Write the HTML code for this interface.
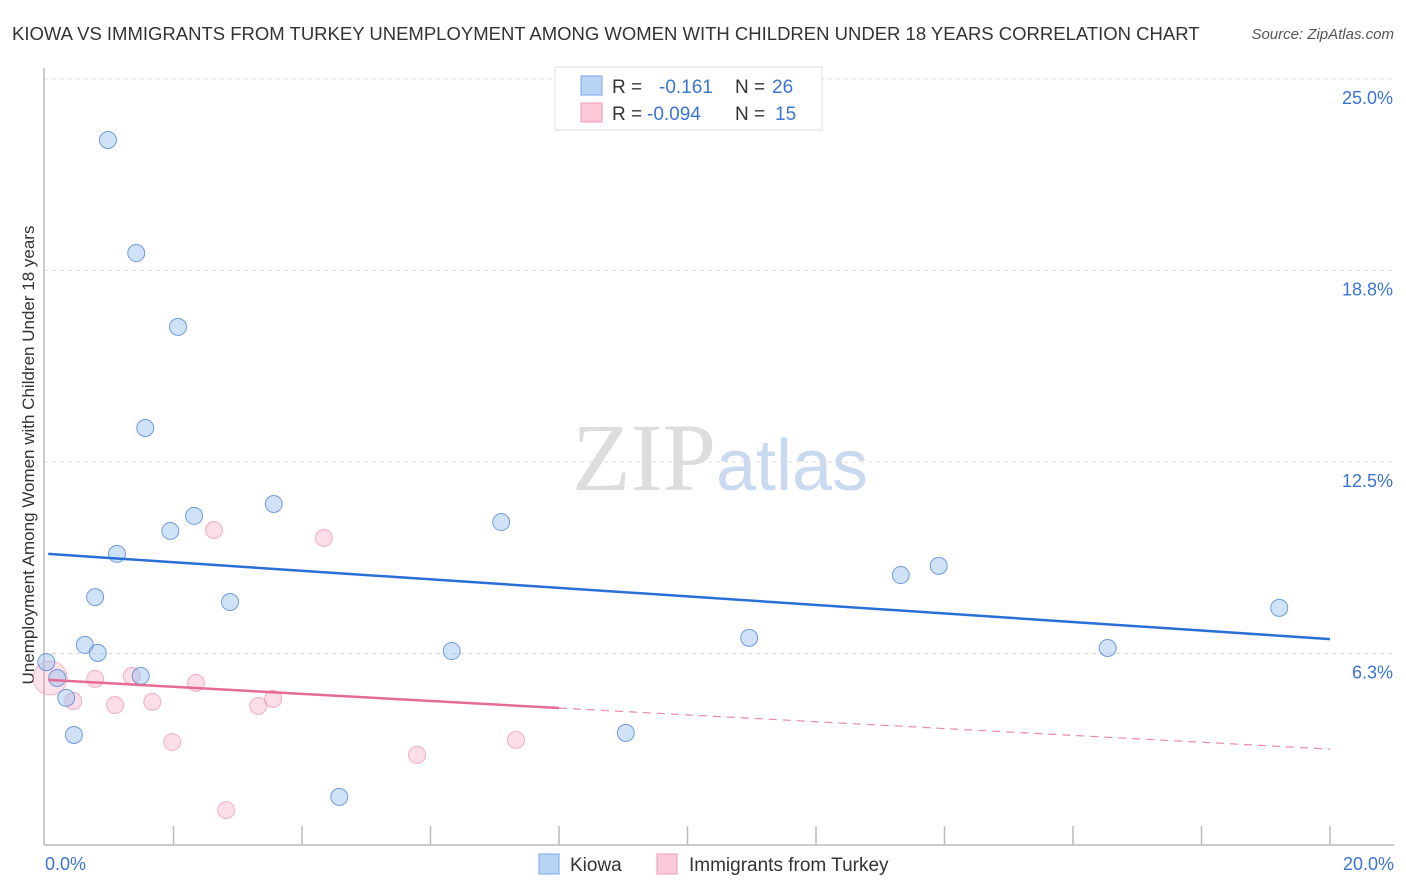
<!DOCTYPE html>
<html><head><meta charset="utf-8"><style>
body{margin:0;background:#fff;font-family:"Liberation Sans",sans-serif}
svg{display:block}
</style></head><body>
<svg id="chart" width="1406" height="892" viewBox="0 0 1406 892" xmlns="http://www.w3.org/2000/svg">
<text x="12" y="40" font-size="18.5" fill="#333">KIOWA VS IMMIGRANTS FROM TURKEY UNEMPLOYMENT AMONG WOMEN WITH CHILDREN UNDER 18 YEARS CORRELATION CHART</text>
<text x="1394" y="39" font-size="15" fill="#555" text-anchor="end" font-style="italic">Source: ZipAtlas.com</text>
<text x="720" y="490" font-size="96" text-anchor="middle"><tspan fill="#ddd" font-family="Liberation Serif">ZIP</tspan><tspan fill="#c9daf0" font-size="72">atlas</tspan></text>
<g id="grid"></g>
<line x1="44" y1="68" x2="44" y2="845" stroke="#bbb" stroke-width="1.5"/>
<line x1="44" y1="845" x2="1394" y2="845" stroke="#bbb" stroke-width="1.5"/>
<g id="ticks"></g>
<text transform="translate(34,455) rotate(-90)" font-size="17" fill="#333" text-anchor="middle">Unemployment Among Women with Children Under 18 years</text>
<text x="45" y="870" font-size="18" fill="#3b74d1">0.0%</text>
<text x="1394" y="870" font-size="18" fill="#3b74d1" text-anchor="end">20.0%</text>
<g id="marks"></g>
<g>
<rect x="555" y="67" width="267" height="63" fill="#fff" stroke="#ddd"/>
<rect x="581" y="76" width="21" height="19" fill="#b9d3f5" stroke="#7aa6e6"/>
<rect x="581" y="103" width="21" height="19" fill="#fbc9d8" stroke="#f09ab5"/>
<text x="612" y="93" font-size="19" fill="#333">R = <tspan fill="#3b74d1" x="659">-0.161</tspan><tspan fill="#333" x="735">N = </tspan><tspan fill="#3b74d1" x="772">26</tspan></text>
<text x="612" y="120" font-size="19" fill="#333">R = <tspan fill="#3b74d1" x="647">-0.094</tspan><tspan fill="#333" x="735">N = </tspan><tspan fill="#3b74d1" x="775">15</tspan></text>
</g>
<g>
<rect x="539" y="854" width="20" height="20" fill="#b9d3f5" stroke="#7aa6e6"/>
<text x="570" y="871" font-size="19" fill="#333">Kiowa</text>
<rect x="657" y="854" width="20" height="20" fill="#fbc9d8" stroke="#f09ab5"/>
<text x="689" y="871" font-size="19" fill="#333">Immigrants from Turkey</text>
</g>
</svg>
<script>
const yTickValues = [25, 18.75, 12.5, 6.25];
const yTickLabels = ["25.0%", "18.8%", "12.5%", "6.3%"];
const xTickValues = [2, 4, 6, 8, 10, 12, 14, 16, 18, 20];
const kiowaX = [0.98,1.42,2.07,1.56,3.56,2.32,1.95,7.10,1.12,0.78,2.88,0.62,0.82,0.02,1.49,0.19,0.33,0.45,6.33,9.04,10.96,4.58,13.32,13.91,16.54,19.21];
const kiowaY = [23.01,19.32,16.91,13.61,11.13,10.74,10.25,10.54,9.50,8.09,7.93,6.53,6.27,5.97,5.52,5.45,4.80,3.59,6.33,3.66,6.76,1.57,8.81,9.11,6.43,7.74];
const turkeyX = [0.78,0.44,1.09,1.35,2.35,1.67,1.98,3.32,3.55,2.63,4.34,5.79,7.33,2.82];
const turkeyY = [5.42,4.70,4.57,5.52,5.29,4.67,3.36,4.54,4.77,10.28,10.02,2.94,3.43,1.14];
const turkeyBigX = [0.08];
const turkeyBigY = [5.45];
const kiowaTrendX = [0.05, 20];
const kiowaTrendY = [9.50, 6.72];
const turkeyTrendX = [0.05, 8.0, 20];
const turkeyTrendY = [5.39, 4.47, 3.13];

const NS = "http://www.w3.org/2000/svg";
const xs = v => 45 + v / 20 * 1285;
const ys = v => 845 - v / 25 * 766;
function mk(tag, attrs, parent) {
  const el = document.createElementNS(NS, tag);
  for (const k in attrs) el.setAttribute(k, attrs[k]);
  parent.appendChild(el);
  return el;
}
const grid = document.getElementById('grid');
const ticks = document.getElementById('ticks');
const marks = document.getElementById('marks');

yTickValues.forEach((v, i) => {
  const l = mk('line', {x1: 44, x2: 1394, y1: ys(v), y2: ys(v), stroke: '#ddd', 'stroke-dasharray': '4,4'}, grid);
  
  
  const t = mk('text', {x: 1393, y: ys(v) + 25, 'font-size': 18, fill: '#3b74d1', 'text-anchor': 'end'}, grid);
  t.textContent = yTickLabels[i];
  
  
});
xTickValues.forEach(v => {
  const l = mk('line', {x1: xs(v), x2: xs(v), y1: 826, y2: 845, stroke: '#bbb', 'stroke-width': 1.5}, ticks);
  
  
});

turkeyBigX.forEach((x, i) => {
  const c = mk('circle', {cx: xs(x), cy: ys(turkeyBigY[i]), r: 17, fill: 'rgba(246,160,188,0.3)', stroke: 'rgba(236,130,165,0.5)'}, marks);
  
  
});
turkeyX.forEach((x, i) => {
  const c = mk('circle', {cx: xs(x), cy: ys(turkeyY[i]), r: 8.5, fill: 'rgba(246,160,188,0.35)', stroke: 'rgba(236,130,165,0.6)'}, marks);
  
  
});
kiowaX.forEach((x, i) => {
  const c = mk('circle', {cx: xs(x), cy: ys(kiowaY[i]), r: 8.5, fill: 'rgba(150,190,240,0.45)', stroke: 'rgba(60,120,210,0.7)'}, marks);
  
  
});

const kl = mk('line', {x1: xs(kiowaTrendX[0]), y1: ys(kiowaTrendY[0]), x2: xs(kiowaTrendX[1]), y2: ys(kiowaTrendY[1]), stroke: '#2a6fd6', 'stroke-width': 2.5}, marks);


const tl = mk('line', {x1: xs(turkeyTrendX[0]), y1: ys(turkeyTrendY[0]), x2: xs(turkeyTrendX[1]), y2: ys(turkeyTrendY[1]), stroke: '#e56a94', 'stroke-width': 2.5}, marks);


const td = mk('line', {x1: xs(turkeyTrendX[1]), y1: ys(turkeyTrendY[1]), x2: xs(turkeyTrendX[2]), y2: ys(turkeyTrendY[2]), stroke: '#e98aab', 'stroke-width': 1.2, 'stroke-dasharray': '8,6'}, marks);


</script>
</body></html>
